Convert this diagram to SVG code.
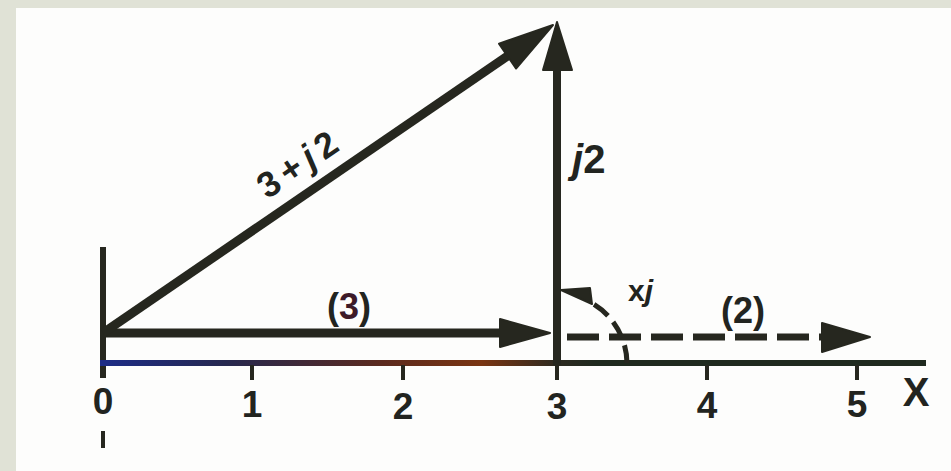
<svg xmlns="http://www.w3.org/2000/svg" width="951" height="471" viewBox="0 0 951 471">
  <style>
    .ln { stroke: #26271f; fill: none; stroke-linecap: butt; }
    .ah { fill: #26271f; stroke: #26271f; stroke-width: 2; stroke-linejoin: round; }
    .t { font-family: "Liberation Sans", Arial, sans-serif; font-weight: bold; fill: #222420; }
    .num { font-size: 37px; text-anchor: middle; }
  </style>
  <defs>
    <linearGradient id="axisGrad" gradientUnits="userSpaceOnUse" x1="103" y1="0" x2="926" y2="0">
      <stop offset="0" stop-color="#1d2c86"/>
      <stop offset="0.15" stop-color="#26284f"/>
      <stop offset="0.34" stop-color="#5c2a1e"/>
      <stop offset="0.46" stop-color="#7a3512"/>
      <stop offset="0.55" stop-color="#2e2a20"/>
      <stop offset="0.6" stop-color="#1f2a1f"/>
      <stop offset="1" stop-color="#1f2a1f"/>
    </linearGradient>
  </defs>

  <rect x="0" y="0" width="951" height="471" fill="#e0e2d6"/>
  <rect x="16" y="8" width="935" height="463" fill="#fdfdfc"/>

  <g id="connectors">
    <!-- vertical axis -->
    <line class="ln" x1="103" y1="247" x2="103" y2="378" stroke-width="6"/>
    <line class="ln" x1="103" y1="431" x2="103" y2="448" stroke-width="4"/>
    <!-- X axis -->
    <line x1="100" y1="363" x2="926" y2="363" stroke="url(#axisGrad)" stroke-width="6"/>
    <!-- ticks -->
    <line class="ln" x1="252" y1="365" x2="252" y2="380" stroke-width="4"/>
    <line class="ln" x1="403" y1="365" x2="403" y2="380" stroke-width="4"/>
    <line class="ln" x1="557" y1="365" x2="557" y2="380" stroke-width="4"/>
    <line class="ln" x1="707" y1="365" x2="707" y2="380" stroke-width="4"/>
    <line class="ln" x1="857" y1="365" x2="857" y2="380" stroke-width="4"/>

    <!-- (3) vector -->
    <line class="ln" x1="103" y1="333" x2="505" y2="333" stroke-width="9"/>
    <polygon class="ah" points="500,319 550,333 500,347"/>

    <!-- (2) dashed vector -->
    <line class="ln" x1="567" y1="337" x2="825" y2="337" stroke-width="7" stroke-dasharray="32 10" stroke="#2a3428"/>
    <polygon class="ah" points="822,323 870,337 822,352"/>

    <!-- j2 vertical vector -->
    <line class="ln" x1="557" y1="365" x2="557" y2="66" stroke-width="8"/>
    <polygon class="ah" points="557,22 572,70 543,70"/>

    <!-- 3+j2 diagonal vector -->
    <line class="ln" x1="103" y1="333" x2="512" y2="53" stroke-width="9"/>
    <polygon class="ah" points="553,25 516,68.5 499,43.7"/>

    <!-- xj rotation arc -->
    <path class="ln" d="M 627 363 A 70 70 0 0 0 588 301" stroke-width="5" stroke-dasharray="18 8"/>
    <polygon class="ah" points="561,290 590,288 592,304"/>
  </g>

  <g id="label-origin"><text class="t num" x="103" y="414">0</text></g>
  <g id="label-1"><text class="t num" x="252" y="417">1</text></g>
  <g id="label-2"><text class="t num" x="403" y="419">2</text></g>
  <g id="label-3"><text class="t num" x="557" y="419">3</text></g>
  <g id="label-4"><text class="t num" x="707" y="418">4</text></g>
  <g id="label-5"><text class="t num" x="857" y="417">5</text></g>
  <g id="label-X"><text class="t" x="916" y="406" font-size="40" text-anchor="middle">X</text></g>

  <g id="label-sum">
    <text class="t" font-size="36" letter-spacing="6" text-anchor="middle" transform="translate(300,163) rotate(-34.4)" y="12">3+<tspan font-style="italic">j</tspan>2</text>
  </g>
  <g id="label-j2">
    <text class="t" x="572" y="173" font-size="40"><tspan font-style="italic">j</tspan>2</text>
  </g>
  <g id="label-3paren">
    <text class="t" x="349" y="319" font-size="36" text-anchor="middle">(<tspan fill="#3d1a28">3</tspan>)</text>
  </g>
  <g id="label-2paren">
    <text class="t" x="743" y="323" font-size="36" text-anchor="middle">(2)</text>
  </g>
  <g id="label-xj">
    <text class="t" x="628" y="301" font-size="30">x<tspan font-style="italic">j</tspan></text>
  </g>
</svg>
